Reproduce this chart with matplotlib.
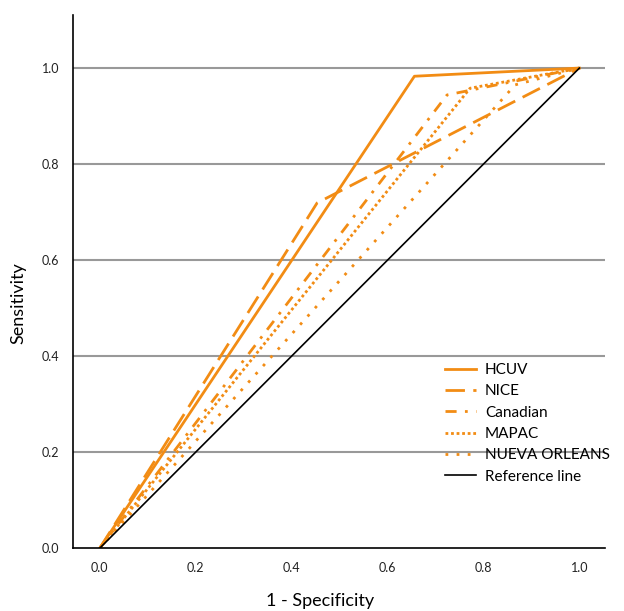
import matplotlib.pyplot as plt

# ROC points (1 - specificity, sensitivity)
hcuv_x = [0.0, 0.656, 1.0]
hcuv_y = [0.0, 0.983, 1.0]
nice_x = [0.0, 0.453, 1.0]
nice_y = [0.0, 0.719, 1.0]
canadian_x = [0.0, 0.724, 1.0]
canadian_y = [0.0, 0.944, 1.0]
mapac_x = [0.0, 0.772, 1.0]
mapac_y = [0.0, 0.958, 1.0]
nueva_x = [0.0, 0.866, 1.0]
nueva_y = [0.0, 0.965, 1.0]
ref_x = [0.0, 1.0]
ref_y = [0.0, 1.0]

ticks = [0.0, 0.2, 0.4, 0.6, 0.8, 1.0]
ORANGE = '#F28C14'

plt.rcParams['font.family'] = ['Lato', 'DejaVu Sans']

fig = plt.figure(figsize=(6.24, 6.11), dpi=100)
ax = fig.add_axes([0.117, 0.103, 0.853, 0.872])

for y in ticks[1:]:
    ax.axhline(y, color='#999999', lw=1.5, zorder=0)

ax.plot(hcuv_x, hcuv_y, color=ORANGE, lw=2.0, label='HCUV')
ax.plot(nice_x, nice_y, color=ORANGE, lw=2.0, dashes=(7, 3), label='NICE')
ax.plot(canadian_x, canadian_y, color=ORANGE, lw=2.0, dashes=(4, 3, 1, 3), label='Canadian')
ax.plot(mapac_x, mapac_y, color=ORANGE, lw=2.0, dashes=(1, 1), label='MAPAC')
ax.plot(nueva_x, nueva_y, color=ORANGE, lw=2.0, dashes=(1, 3), label='NUEVA ORLEANS')
ax.plot(ref_x, ref_y, color='black', lw=1.2, label='Reference line')

ax.set_xlim(-0.056, 1.054)
ax.set_ylim(0.0, 1.11)
ax.set_xticks(ticks)
ax.set_yticks(ticks)
ax.set_xticklabels([f'{t:.1f}' for t in ticks])
ax.set_yticklabels([f'{t:.1f}' for t in ticks])
ax.tick_params(length=0, labelsize=9, colors='#222222', pad=10)

for side in ['top', 'right']:
    ax.spines[side].set_visible(False)
for side in ['left', 'bottom']:
    ax.spines[side].set_linewidth(1.2)

ax.set_xlabel('1 - Specificity', fontsize=13)
ax.xaxis.set_label_coords(0.464, -0.084)
ax.set_ylabel('Sensitivity', fontsize=13)
ax.yaxis.set_label_coords(-0.088, 0.46)

ax.legend(loc='lower left', bbox_to_anchor=(0.699, 0.121), frameon=False,
          fontsize=11, handlelength=2.0, handletextpad=0.6,
          labelspacing=0.48, borderaxespad=0, borderpad=0)

fig.savefig('out.png', dpi=100)
